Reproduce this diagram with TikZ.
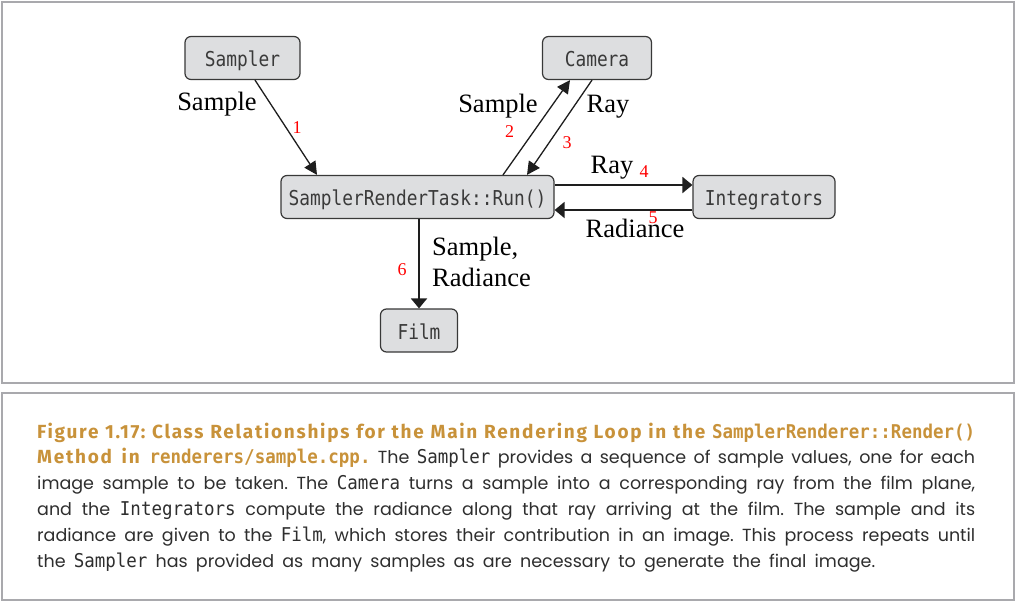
\documentclass[tikz,border=0pt]{standalone}
\usepackage{fontspec}
\setmainfont{Liberation Serif}
\newfontfamily\boxfont[FakeStretch=0.87]{DejaVu Sans Mono}
\newfontfamily\capfont{Poppins}
\newfontfamily\capbold[LetterSpace=9]{Fira Sans}
\newfontfamily\capmono[FakeStretch=0.92]{DejaVu Sans Mono}
\usetikzlibrary{arrows.meta}
\definecolor{boxfill}{HTML}{DDDEE0}
\definecolor{boxline}{HTML}{383838}
\definecolor{boxtext}{HTML}{3A3A3A}
\definecolor{arrowc}{HTML}{1E1E1E}
\definecolor{framec}{HTML}{A9A9AD}
\definecolor{gold}{HTML}{C8923A}
\definecolor{captext}{HTML}{2E2E2E}
\newcommand{\cm}[1]{{\capmono\fontsize{19}{20}\selectfont #1}}
\newcommand{\cmb}[1]{{\capmono\bfseries\fontsize{19}{20}\selectfont #1}}
\newcommand{\fitline}[2]{\makebox[#1][s]{#2}}
\frenchspacing
\begin{document}
\begin{tikzpicture}[x=1pt,y=-1pt,
  box/.style={draw=boxline, line width=1.2pt, fill=boxfill, rounded corners=6pt,
    minimum height=43pt, text=boxtext, inner sep=0pt, text height=17.5pt, text depth=0pt,
    font=\boxfont\fontsize{20.5}{22}\selectfont},
  lbl/.style={font=\fontsize{26.5}{31}\selectfont, text=black, inner sep=0pt},
  num/.style={font=\fontsize{18}{18}\selectfont, text=red, inner sep=0pt, anchor=base},
  thinarr/.style={-{Triangle[length=13pt,width=13pt]}, line width=1.3pt, draw=arrowc, fill=arrowc},
  thickarr/.style={-{Triangle[length=10pt,width=16pt]}, line width=2pt, draw=arrowc, fill=arrowc},
  frame/.style={draw=framec, line width=2pt},
  capline/.style={anchor=base west, inner sep=0pt, text=captext,
    font=\capfont\fontsize{17.5}{20}\selectfont}]
\useasboundingbox (0,0) rectangle (1016,602);
\draw[frame] (2,2) rectangle (1014,383);
\draw[frame] (2,393) rectangle (1014,600);

% nodes
\node[box, minimum width=115pt] (sampler) at (242.5,58) {Sampler};
\node[box, minimum width=109pt] (camera) at (597,58) {Camera};
\node[box, minimum width=273pt] (srt) at (417.5,197) {SamplerRenderTask::Run()};
\node[box, minimum width=142pt] (intg) at (764,197) {Integrators};
\node[box, minimum width=77pt] (film) at (419,330.5) {Film};

% connectors
\draw[thinarr] ([xshift=12.5pt]sampler.south) -- ([xshift=-100.5pt]srt.north);
\draw[thinarr] ([xshift=85.5pt]srt.north) -- ([xshift=-27pt]camera.south);
\draw[thinarr] ([xshift=-5pt]camera.south) -- ([xshift=109.5pt]srt.north);
\draw[thickarr] ([yshift=12pt]srt.east) -- ([yshift=12pt]intg.west);
\draw[thickarr] ([yshift=-13pt]intg.west) -- ([yshift=-13pt]srt.east);
\draw[thickarr] (srt.south -| film.north) -- (film.north);

% labels
\node[lbl, anchor=base] (l1) at (217,110) {Sample};
\node[lbl, anchor=base] (l2) at (498,112) {Sample};
\node[lbl, anchor=base] (l3) at (608,112) {Ray};
\node[lbl, anchor=base] (l4) at (612,173) {Ray};
\node[lbl, anchor=base] (l5) at (635,237) {Radiance};
\node[lbl, anchor=base west] (l6a) at (432,255) {Sample,};
\node[lbl, anchor=base west] (l6b) at (432,286) {Radiance};

\node[num] (n1) at (297,133) {1};
\node[num] (n2) at (509.5,137) {2};
\node[num] (n3) at (567,148) {3};
\node[num] (n4) at (644,177) {4};
\node[num] (n5) at (653,223) {5};
\node[num] (n6) at (402,275) {6};

% caption
\node[capline] (c1) at (37,438) {\fitline{938pt}{{\color{gold}\capbold\bfseries\fontsize{19}{20}\selectfont Figure 1.17: Class Relationships for the Main Rendering Loop in the \cmb{SamplerRenderer::Render()}}}};
\node[capline] (c2) at (37,463.5) {\fitline{938pt}{{\color{gold}\capbold\bfseries\fontsize{19}{20}\selectfont Method in \cmb{renderers/sample.cpp.}} The \cm{Sampler} provides a sequence of sample values, one for each}};
\node[capline] (c3) at (37,489.5) {\fitline{938pt}{image sample to be taken. The \cm{Camera} turns a sample into a corresponding ray from the film plane,}};
\node[capline] (c4) at (37,515.5) {\fitline{938pt}{and the \cm{Integrators} compute the radiance along that ray arriving at the film. The sample and its}};
\node[capline] (c5) at (37,541.5) {\fitline{938pt}{radiance are given to the \cm{Film}, which stores their contribution in an image. This process repeats until}};
\node[capline] (c6) at (37,567) {\fitline{838pt}{the \cm{Sampler} has provided as many samples as are necessary to generate the final image.}};
\end{tikzpicture}
\end{document}
